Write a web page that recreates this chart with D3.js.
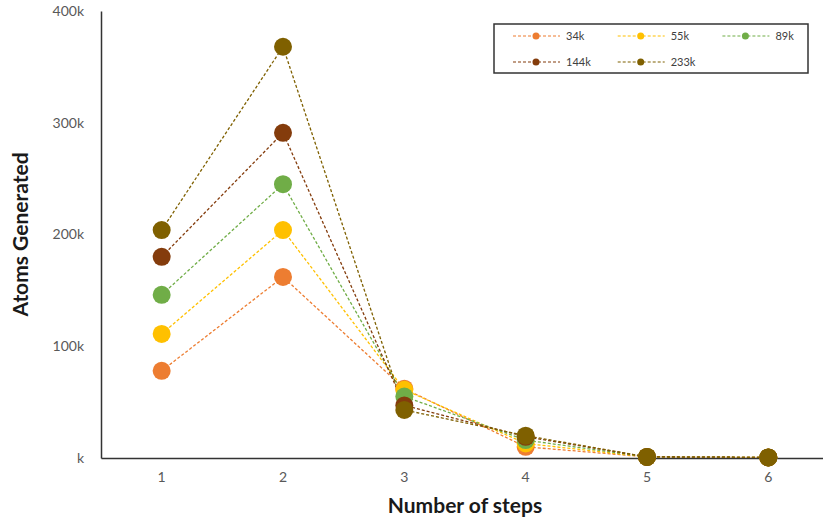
<!DOCTYPE html>
<html>
<head>
<meta charset="utf-8">
<script src="https://cdn.jsdelivr.net/npm/d3@7"></script>
<style>
  html, body { margin: 0; padding: 0; background: #fff; }
  svg { display: block; }
  text { font-family: Lato, "Open Sans", sans-serif; }
</style>
</head>
<body>
<svg id="chart" width="823" height="524"></svg>
<script>
// Number of steps on the horizontal axis
const steps = [1, 2, 3, 4, 5, 6];

// Atoms generated (thousands) per step, one array per run size
const series34k  = [78, 162, 62, 10, 1, 0.5];
const series55k  = [111, 204, 61, 13, 1, 0.5];
const series89k  = [146, 245, 55, 16, 1, 0.5];
const series144k = [180, 291, 47, 19, 1, 0.5];
const series233k = [204, 368, 43, 20, 1, 0.5];

const seriesNames  = ["34k", "55k", "89k", "144k", "233k"];
const seriesValues = [series34k, series55k, series89k, series144k, series233k];
const seriesColors = ["#ED7D31", "#FFC000", "#70AD47", "#843C0C", "#7F6000"];

const yTicks = [0, 100, 200, 300, 400];

const svg = d3.select("#chart");
const plot = { left: 101, right: 829, top: 11, bottom: 458 };

const x = d3.scaleBand().domain(steps).range([plot.left, plot.right]);
const y = d3.scaleLinear().domain([0, 400]).range([plot.bottom, plot.top]);
const cx = d => x(d) + x.bandwidth() / 2;

// Axes
const yAxis = d3.axisLeft(y).tickValues(yTicks).tickSize(0).tickPadding(17)
  .tickFormat(d => d === 0 ? "k" : d + "k");
const gy = svg.append("g").attr("transform", `translate(${plot.left},0)`).call(yAxis);
gy.select(".domain").attr("stroke", "#333").attr("stroke-width", 1.5);
gy.selectAll("text").attr("fill", "#595959").attr("font-size", 14).attr("font-family", "Lato");

const xAxis = d3.axisBottom(x).tickSize(0).tickPadding(14);
const gx = svg.append("g").attr("transform", `translate(0,${plot.bottom})`).call(xAxis);
gx.select(".domain").attr("stroke", "#333").attr("stroke-width", 1.5);
gx.selectAll("text").attr("fill", "#595959").attr("font-size", 14).attr("font-family", "Lato");

// Axis titles
svg.append("text")
  .attr("transform", `translate(28,${(plot.top + plot.bottom) / 2}) rotate(-90)`)
  .attr("text-anchor", "middle")
  .attr("font-size", 21).attr("font-weight", "bold").attr("fill", "#1a1a1a")
  .text("Atoms Generated");
svg.append("text")
  .attr("x", 465).attr("y", 513)
  .attr("text-anchor", "middle")
  .attr("font-size", 21).attr("font-weight", "bold").attr("fill", "#1a1a1a")
  .text("Number of steps");

// Series lines and markers
const line = d3.line().x((d, i) => cx(steps[i])).y(d => y(d));
seriesValues.forEach((vals, s) => {
  svg.append("path")
    .datum(vals)
    .attr("d", line)
    .attr("fill", "none")
    .attr("stroke", seriesColors[s])
    .attr("stroke-width", 1.3)
    .attr("stroke-dasharray", "3,2");
});
seriesValues.forEach((vals, s) => {
  svg.append("g").selectAll("circle")
    .data(vals)
    .join("circle")
    .attr("cx", (d, i) => cx(steps[i]))
    .attr("cy", d => y(d))
    .attr("r", 9)
    .attr("fill", seriesColors[s]);
});

// Legend
const legend = svg.append("g");
legend.append("rect")
  .attr("x", 494).attr("y", 24).attr("width", 314).attr("height", 49)
  .attr("fill", "#fff").attr("stroke", "#333").attr("stroke-width", 1.5);
seriesNames.forEach((name, i) => {
  const col = i % 3, row = Math.floor(i / 3);
  const lx = 513 + col * 104.7, ly = 36 + row * 26;
  const g = legend.append("g");
  g.append("line")
    .attr("x1", lx).attr("x2", lx + 47).attr("y1", ly).attr("y2", ly)
    .attr("stroke", seriesColors[i]).attr("stroke-width", 1.2)
    .attr("stroke-dasharray", "3,2");
  g.append("circle").attr("cx", lx + 23).attr("cy", ly).attr("r", 3.5)
    .attr("fill", seriesColors[i]);
  g.append("text").attr("x", lx + 53).attr("y", ly + 4)
    .attr("font-size", 11).attr("fill", "#404040").text(name);
});
</script>
</body>
</html>
